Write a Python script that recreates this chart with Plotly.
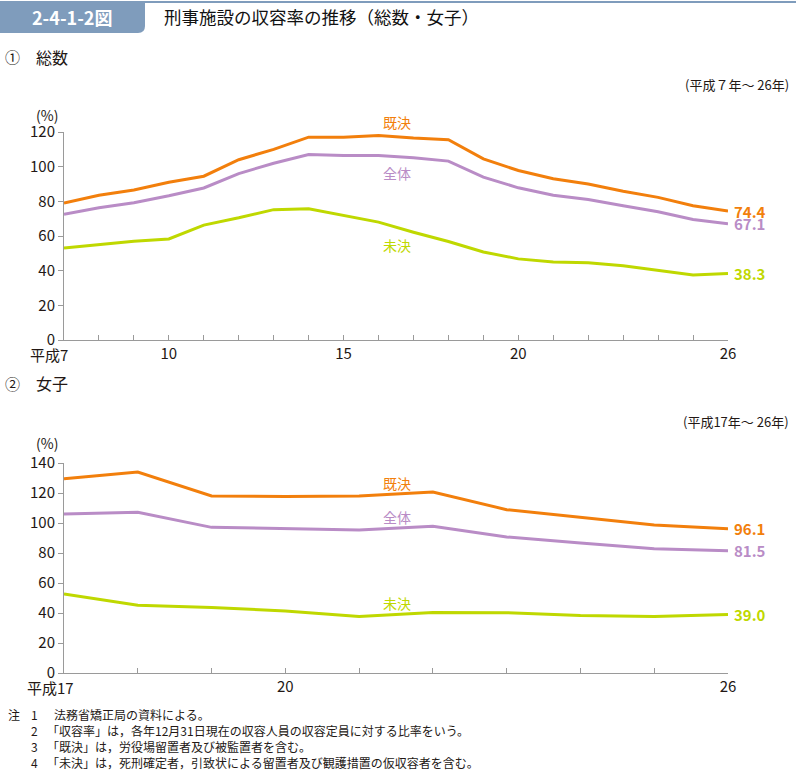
import plotly.graph_objects as go

# ---- data ----
years_total = list(range(7, 27))
kiketsu_total = [79.0, 83.5, 86.5, 91.0, 94.5, 104.0, 110.0, 117.0, 117.0, 118.0,
                 116.5, 115.5, 104.5, 97.8, 93.0, 90.0, 85.8, 82.3, 77.5, 74.4]
zentai_total = [72.5, 76.3, 79.2, 83.2, 87.7, 96.0, 102.0, 107.0, 106.5, 106.5,
                105.2, 103.2, 94.0, 87.8, 83.5, 81.0, 77.5, 74.0, 69.5, 67.1]
miketsu_total = [53.0, 55.0, 57.0, 58.3, 66.3, 70.5, 75.2, 75.7, 72.0, 68.0,
                 62.2, 56.8, 50.8, 46.8, 45.0, 44.6, 42.8, 40.3, 37.5, 38.3]

years_women = list(range(17, 27))
kiketsu_women = [129.5, 134.0, 118.0, 117.6, 118.0, 120.7, 108.9, 103.8, 98.7, 96.1]
zentai_women = [106.0, 107.1, 97.1, 96.5, 95.4, 97.8, 90.7, 86.7, 82.9, 81.5]
miketsu_women = [52.7, 45.2, 43.6, 41.4, 37.7, 40.4, 40.2, 38.4, 37.7, 39.0]

series_names = ["既決", "全体", "未決"]
colors = ["#F27F0C", "#B98CC6", "#BFD800"]

top_ticks = {7: "", 10: "10", 15: "15", 20: "20", 26: "26"}
bot_ticks = {17: "", 20: "20", 26: "26"}

notes = [
    ("1", "法務省矯正局の資料による。"),
    ("2", "「収容率」は，各年12月31日現在の収容人員の収容定員に対する比率をいう。"),
    ("3", "「既決」は，労役場留置者及び被監置者を含む。"),
    ("4", "「未決」は，死刑確定者，引致状による留置者及び観護措置の仮収容者を含む。"),
]

W, H = 796, 770
FONT = "Noto Sans CJK JP, Noto Sans, sans-serif"
TXT = "#231815"
AX = "#9a9a9a"


def px_x(x):
    return x / W


def px_y(y):
    return 1 - y / H


fig = go.Figure()

top_sets = [kiketsu_total, zentai_total, miketsu_total]
bot_sets = [kiketsu_women, zentai_women, miketsu_women]
for name, c, vals in zip(series_names, colors, top_sets):
    fig.add_trace(go.Scatter(x=years_total, y=vals, mode="lines", name=name,
                             line=dict(color=c, width=3), xaxis="x", yaxis="y",
                             showlegend=False, hoverinfo="skip"))
for name, c, vals in zip(series_names, colors, bot_sets):
    fig.add_trace(go.Scatter(x=years_women, y=vals, mode="lines", name=name,
                             line=dict(color=c, width=3), xaxis="x2", yaxis="y2",
                             showlegend=False, hoverinfo="skip"))

xdom = [px_x(64), px_x(728)]
common_x = dict(showgrid=False, zeroline=False, showline=True, linecolor=AX, linewidth=1,
                ticks="inside", ticklen=5, tickcolor=AX, tickwidth=1, automargin=False,
                tickfont=dict(family=FONT, size=15, color=TXT), domain=xdom, fixedrange=True)
common_y = dict(showgrid=False, zeroline=False, showline=True, linecolor=AX, linewidth=1,
                ticks="outside", ticklen=5, tickcolor=AX, tickwidth=1, automargin=False,
                tickfont=dict(family=FONT, size=15, color=TXT), fixedrange=True)

fig.update_layout(
    width=W, height=H, autosize=False,
    margin=dict(l=0, r=0, t=0, b=0, pad=0, autoexpand=False),
    paper_bgcolor="white", plot_bgcolor="white",
    font=dict(family=FONT, color=TXT),
    xaxis=dict(common_x, range=[7, 26], tickvals=years_total,
               ticktext=[top_ticks.get(y, "") for y in years_total], anchor="y"),
    yaxis=dict(common_y, range=[0, 120], tickvals=list(range(0, 121, 20)),
               domain=[px_y(340), px_y(132)], anchor="x"),
    xaxis2=dict(common_x, range=[17, 26], tickvals=years_women,
                ticktext=[bot_ticks.get(y, "") for y in years_women], anchor="y2"),
    yaxis2=dict(common_y, range=[0, 140], tickvals=list(range(0, 141, 20)),
                domain=[px_y(673), px_y(463)], anchor="x2"),
)

ann = []
shapes = []

# header
shapes.append(dict(type="line", xref="paper", yref="paper", x0=0, x1=1,
                   y0=px_y(2), y1=px_y(2), line=dict(color="#7f9cbc", width=2)))
shapes.append(dict(type="path", xref="paper", yref="paper",
                   path=(f"M 0 {px_y(2)} L {px_x(145)} {px_y(2)} L {px_x(145)} {px_y(26)} "
                         f"Q {px_x(145)} {px_y(33)} {px_x(138)} {px_y(33)} L 0 {px_y(33)} Z"),
                   fillcolor="#7f9cbc", line=dict(width=0)))
ann.append(dict(text="<b>2-4-1-2図</b>", x=px_x(72), y=px_y(17), xanchor="center", yanchor="middle",
                font=dict(size=18, color="white", family=FONT)))
ann.append(dict(text="刑事施設の収容率の推移（総数・女子）", x=px_x(162), y=px_y(17), xanchor="left",
                yanchor="middle", font=dict(size=17.5, color="#111111", family=FONT)))

# section headings
for label, y in [("①", 57), ("②", 383)]:
    ann.append(dict(text=label, x=px_x(3), y=px_y(y), xanchor="left", yanchor="middle",
                    font=dict(size=15, color=TXT, family=FONT)))
ann.append(dict(text="総数", x=px_x(34), y=px_y(57), xanchor="left", yanchor="middle",
                font=dict(size=16, color=TXT, family=FONT)))
ann.append(dict(text="女子", x=px_x(34), y=px_y(383), xanchor="left", yanchor="middle",
                font=dict(size=16, color=TXT, family=FONT)))
ann.append(dict(text="(平成７年～ 26年)", x=px_x(791), y=px_y(85), xanchor="right", yanchor="middle",
                font=dict(size=13, color=TXT, family=FONT)))
ann.append(dict(text="(平成17年～ 26年)", x=px_x(791), y=px_y(421), xanchor="right", yanchor="middle",
                font=dict(size=13, color=TXT, family=FONT)))
for y in [115, 443]:
    ann.append(dict(text="(%)", x=px_x(34), y=px_y(y), xanchor="left", yanchor="middle",
                    font=dict(size=14, color=TXT, family=FONT)))

# first-tick labels
ann.append(dict(text="平成7", x=7, y=0, xref="x", yref="y", xanchor="right", yanchor="top",
                xshift=6, yshift=-2, font=dict(size=15, color=TXT, family=FONT)))
ann.append(dict(text="平成17", x=17, y=0, xref="x2", yref="y2", xanchor="right", yanchor="top",
                xshift=12, yshift=-2, font=dict(size=15, color=TXT, family=FONT)))

# series labels
for name, c, yv in zip(series_names, colors, [122, 173, 245]):
    ann.append(dict(text=name, x=px_x(397), y=px_y(yv), xanchor="center", yanchor="middle",
                    font=dict(size=14, color=c, family=FONT)))
for name, c, yv in zip(series_names, colors, [483, 517, 603]):
    ann.append(dict(text=name, x=px_x(397), y=px_y(yv), xanchor="center", yanchor="middle",
                    font=dict(size=14, color=c, family=FONT)))

# end-value labels
for c, vals in zip(colors, top_sets):
    ann.append(dict(text=f"<b>{vals[-1]:.1f}</b>", x=years_total[-1], y=vals[-1], xref="x", yref="y",
                    xanchor="left", yanchor="middle", xshift=4,
                    font=dict(size=15, color=c, family=FONT)))
for c, vals in zip(colors, bot_sets):
    ann.append(dict(text=f"<b>{vals[-1]:.1f}</b>", x=years_women[-1], y=vals[-1], xref="x2", yref="y2",
                    xanchor="left", yanchor="middle", xshift=4,
                    font=dict(size=15, color=c, family=FONT)))

# notes
ann.append(dict(text="注", x=px_x(6), y=px_y(714), xanchor="left", yanchor="middle",
                font=dict(size=12, color=TXT, family=FONT)))
for i, (num, txt) in enumerate(notes):
    yv = 714 + i * 16.3
    ann.append(dict(text=num, x=px_x(29), y=px_y(yv), xanchor="left", yanchor="middle",
                    font=dict(size=12, color=TXT, family=FONT)))
    ann.append(dict(text=txt, x=px_x(52 if i == 0 else 45), y=px_y(yv), xanchor="left", yanchor="middle",
                    font=dict(size=12, color=TXT, family=FONT)))

for a in ann:
    a.setdefault("xref", "paper")
    a.setdefault("yref", "paper")
    a["showarrow"] = False

fig.update_layout(annotations=ann, shapes=shapes)
fig.write_html("out.html", config={"displayModeBar": False},
               post_script="document.body.style.margin='0';document.body.style.padding='0';document.body.style.overflow='hidden';")
